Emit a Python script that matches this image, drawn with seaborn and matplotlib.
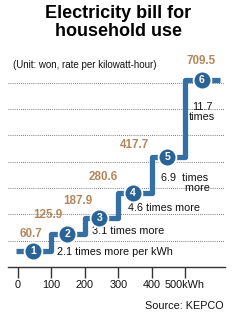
import matplotlib
matplotlib.use("Agg")
import matplotlib.pyplot as plt
import seaborn as sns
import pandas as pd

# step data (kWh boundaries, rate in won)
edges = [-5, 100, 200, 300, 400, 500, 605]
rates = [60.7, 125.9, 187.9, 280.6, 417.7, 709.5, 709.5]
tiers = ["1", "2", "3", "4", "5", "6"]
tier_mid = [45, 148, 244, 345, 447, 551]
rate_labels = ["60.7", "125.9", "187.9", "280.6", "417.7", "709.5"]
ticks = [0, 100, 200, 300, 400, 500]
tick_labels = ["0", "100", "200", "300", "400", "500kWh"]
notes = ["2.1 times more per kWh", "3.1 times more", "4.6 times more",
         "6.9  times\n        more", "11.7\ntimes"]

sns.set_style("white")
plt.rcParams['font.family'] = ['Liberation Sans', 'DejaVu Sans']
plt.rcParams['text.color'] = "#111111"
plt.rcParams['xtick.color'] = "#111111"

blue = "#3470a3"
dark_blue = "#2a6496"
tan = "#b5865c"

fig = plt.figure(figsize=(2.46, 3.23), dpi=100)
ax = fig.add_axes([8 / 246, 56 / 323, 217 / 246, 212 / 323])

step_df = pd.DataFrame({"kwh": edges, "rate": rates})
sns.lineplot(data=step_df, x="kwh", y="rate", drawstyle="steps-post",
             color=blue, linewidth=3.8, estimator=None, ax=ax,
             solid_capstyle="butt", zorder=3)

pt_df = pd.DataFrame({"kwh": tier_mid, "rate": rates[:6]})
sns.scatterplot(data=pt_df, x="kwh", y="rate", s=165, color=dark_blue,
                edgecolor="white", linewidth=1.3, ax=ax, zorder=4)
for x, y, t in zip(tier_mid, rates, tiers):
    ax.text(x, y, t, color="white", fontsize=7.5, fontweight="bold",
            ha="center", va="center", zorder=5)

# rate labels
lab_pos = [(38, 63), (88, 70), (178, 62), (256, 62), (348, 45), (548, 72)]
for (x, dy), r, lab in zip(lab_pos, rates, rate_labels):
    ax.text(x, r + dy, lab, color=tan, fontsize=8.4, fontweight="bold",
            ha="center", va="center")

# ratio notes
ax.text(117, 58, notes[0], fontsize=7.8, ha="left", va="center")
ax.text(222, 135, notes[1], fontsize=7.8, ha="left", va="center")
ax.text(328, 225, notes[2], fontsize=7.8, ha="left", va="center")
ax.text(428, 318, notes[3], fontsize=7.8, ha="left", va="center", linespacing=1.0)
ax.text(551, 590, notes[4], fontsize=7.8, ha="center", va="center", linespacing=1.0)

ax.set_xlim(-30, 620)
ax.set_ylim(0, 805)
for g in range(100, 800, 100):
    ax.axhline(g, color="#555555", linestyle=(0, (1, 1.5)), linewidth=0.6, zorder=1)

ax.set_xticks(ticks)
ax.set_xticklabels(tick_labels, fontsize=7.8)
ax.set_yticks([])
ax.tick_params(axis="x", bottom=True, direction="out", length=8, width=1,
               color="#333333", pad=1.5)
ax.set_xlabel("")
ax.set_ylabel("")
for s in ["top", "right", "left"]:
    ax.spines[s].set_visible(False)
ax.spines["bottom"].set_color("#333333")
ax.spines["bottom"].set_linewidth(1)

fig.text(0.48, 1 - 5 / 323, "Electricity bill for\nhousehold use", fontsize=13,
         fontweight="bold", ha="center", va="top", linespacing=1.08, color="black")
fig.text(13 / 246, 1 - 65 / 323, "(Unit: won, rate per kilowatt-hour)",
         fontsize=7, ha="left", va="center")
fig.text(224 / 246, 1 - 306 / 323, "Source: KEPCO", fontsize=7.8,
         ha="right", va="center")

fig.savefig("out.png", dpi=100)
